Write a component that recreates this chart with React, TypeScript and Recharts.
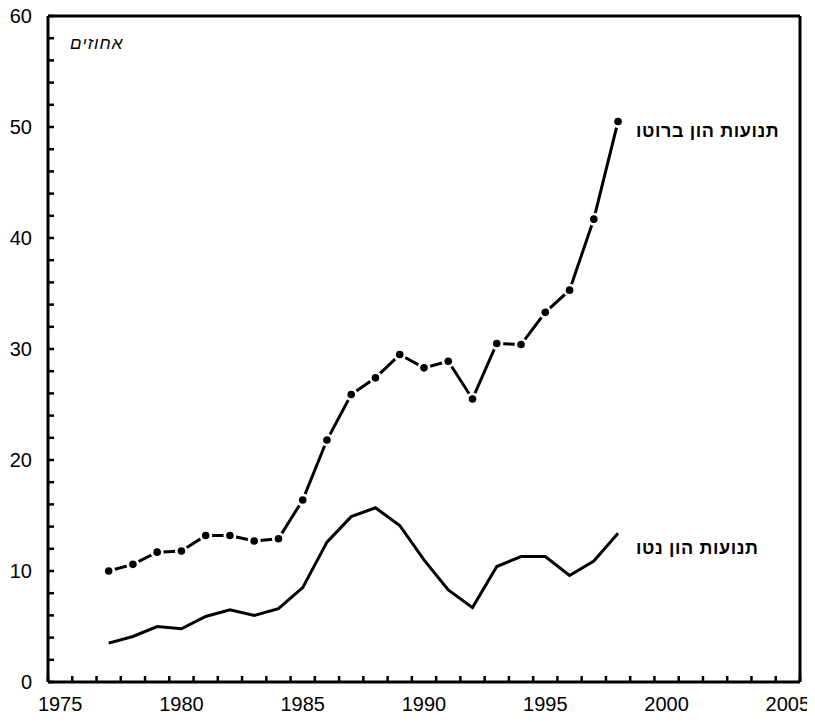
import { LineChart, Line, XAxis, YAxis } from 'recharts';

const years = [1977, 1978, 1979, 1980, 1981, 1982, 1983, 1984, 1985, 1986, 1987, 1988, 1989, 1990, 1991, 1992, 1993, 1994, 1995, 1996, 1997, 1998];
const grossFlows = [10.0, 10.6, 11.7, 11.8, 13.2, 13.2, 12.7, 12.9, 16.4, 21.8, 25.9, 27.4, 29.5, 28.3, 28.9, 25.5, 30.5, 30.4, 33.3, 35.3, 41.7, 50.5];
const netFlows = [3.5, 4.1, 5.0, 4.8, 5.9, 6.5, 6.0, 6.6, 8.5, 12.6, 14.9, 15.7, 14.1, 11.0, 8.3, 6.7, 10.4, 11.3, 11.3, 9.6, 10.9, 13.4];

const yearLabels = [1975, 1980, 1985, 1990, 1995, 2000, 2005];
const yTickValues = [0, 2, 4, 6, 8, 10, 12, 14, 16, 18, 20, 22, 24, 26, 28, 30, 32, 34, 36, 38, 40, 42, 44, 46, 48, 50, 52, 54, 56, 58, 60];
const yLabelValues = [0, 10, 20, 30, 40, 50, 60];

const grossLabel = 'תנועות הון ברוטו';
const netLabel = 'תנועות הון נטו';
const unitLabel = 'אחוזים';

const chartData = years.map((year, i) => ({
  year,
  gross: grossFlows[i],
  net: netFlows[i],
}));

// category boundaries (ticks) and category centres (labels)
const xTicks: number[] = [];
for (let y = 1974.5; y <= 2005.5; y += 0.5) xTicks.push(y);

const FONT = '"Liberation Sans", Arial, sans-serif';

function XTick(props: any) {
  const { x, y, payload } = props;
  const v = payload.value;
  if (v % 1 !== 0) {
    return (
      <g>
        <line x1={x} y1={y} x2={x} y2={y - 6} stroke="#000" strokeWidth={2.5} />
      </g>
    );
  }
  if (!yearLabels.includes(v)) return <g />;
  return (
    <g>
      <text x={x} y={y + 29} textAnchor="middle" fontSize={20} fontFamily={FONT} fill="#000">
        {v}
      </text>
    </g>
  );
}

function YTick(props: any) {
  const { x, y, payload } = props;
  const v = payload.value;
  return (
    <g>
      <line x1={x} y1={y} x2={x + 6} y2={y} stroke="#000" strokeWidth={2.5} />
      {yLabelValues.includes(v) && (
        <text x={x - 16} y={y} dy="0.36em" textAnchor="end" fontSize={20} fontFamily={FONT} fill="#000">
          {v}
        </text>
      )}
    </g>
  );
}

function GrossDot(props: any) {
  const { cx, cy, index } = props;
  return (
    <g key={`gd-${index}`}>
      <circle cx={cx} cy={cy} r={6.5} fill="#fff" />
      <circle cx={cx} cy={cy} r={3.8} fill="#000" />
    </g>
  );
}

const labelStyle = {
  position: 'absolute' as const,
  whiteSpace: 'nowrap' as const,
  direction: 'rtl' as const,
  fontFamily: FONT,
  color: '#000',
};

const frameLine = { stroke: '#000', strokeWidth: 3 };

export default function App() {
  return (
    <div style={{ position: 'relative', width: 815, height: 722, margin: '-8px 0 0 -8px' }}>
      <LineChart
        width={815}
        height={722}
        data={chartData}
        margin={{ top: 0, right: 0, bottom: 0, left: 0 }}
      >
        <XAxis
          dataKey="year"
          type="number"
          domain={[1974.5, 2005.5]}
          ticks={xTicks}
          interval={0}
          tickSize={0}
          tickMargin={0}
          tickLine={false}
          tick={<XTick />}
          height={40}
          axisLine={frameLine}
        />
        <XAxis
          xAxisId="top"
          orientation="top"
          dataKey="year"
          type="number"
          domain={[1974.5, 2005.5]}
          tick={false}
          tickLine={false}
          height={16}
          axisLine={frameLine}
        />
        <YAxis
          type="number"
          domain={[0, 60]}
          ticks={yTickValues}
          interval={0}
          tickSize={0}
          tickMargin={0}
          tickLine={false}
          tick={<YTick />}
          width={48}
          axisLine={frameLine}
        />
        <YAxis
          yAxisId="right"
          orientation="right"
          type="number"
          domain={[0, 60]}
          tick={false}
          tickLine={false}
          width={15}
          axisLine={frameLine}
        />
        <Line
          dataKey="net"
          type="linear"
          stroke="#000"
          strokeWidth={3}
          dot={false}
          isAnimationActive={false}
        />
        <Line
          dataKey="gross"
          type="linear"
          stroke="#000"
          strokeWidth={3}
          dot={GrossDot}
          activeDot={false}
          isAnimationActive={false}
        />
      </LineChart>
      <div style={{ ...labelStyle, left: 70, top: 35, fontSize: 17, lineHeight: '17px', letterSpacing: 1, fontStyle: 'italic' }}>
        {unitLabel}
      </div>
      <div style={{ ...labelStyle, left: 636, top: 122, fontSize: 18, lineHeight: '18px', letterSpacing: 0.6, fontWeight: 'bold' }}>
        {grossLabel}
      </div>
      <div style={{ ...labelStyle, left: 636, top: 539, fontSize: 18, lineHeight: '18px', letterSpacing: 0.6, fontWeight: 'bold' }}>
        {netLabel}
      </div>
    </div>
  );
}
